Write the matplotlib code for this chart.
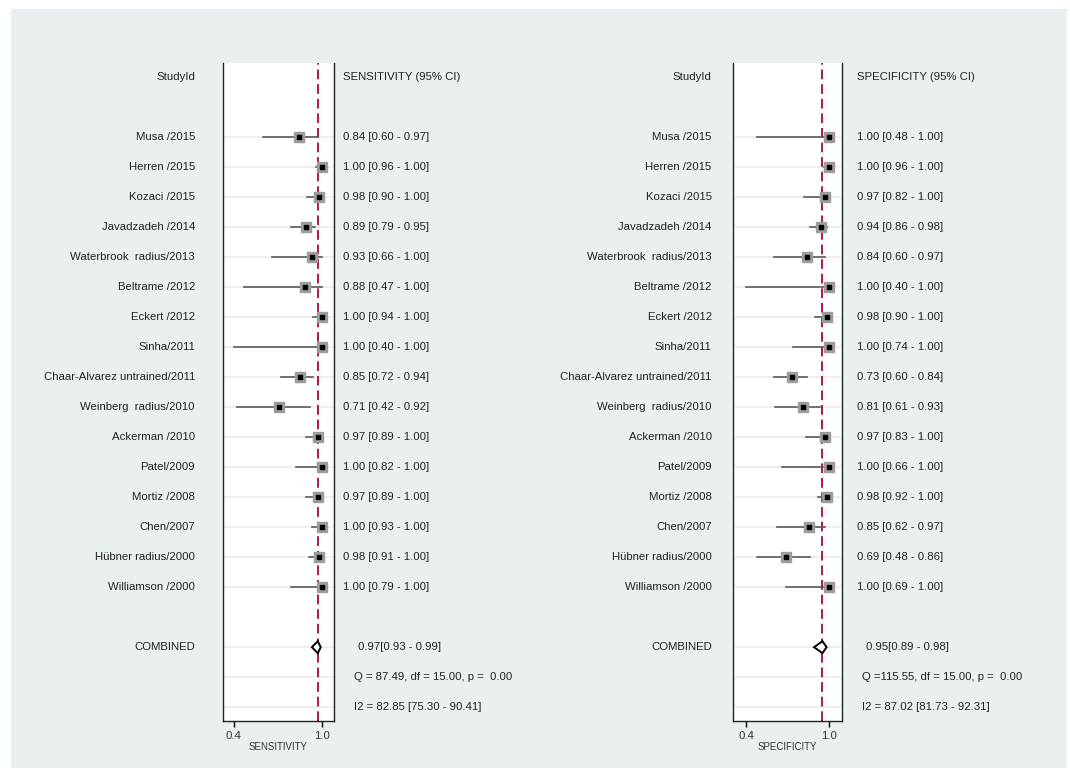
import matplotlib
matplotlib.use("Agg")
import matplotlib.pyplot as plt
from matplotlib.patches import Rectangle, Polygon
from matplotlib.transforms import blended_transform_factory

plt.rcParams['font.family'] = ['Liberation Sans', 'DejaVu Sans']

# ---- data ----
studies = ["Musa /2015", "Herren /2015", "Kozaci /2015", "Javadzadeh /2014",
           "Waterbrook  radius/2013", "Beltrame /2012", "Eckert /2012", "Sinha/2011",
           "Chaar-Alvarez untrained/2011", "Weinberg  radius/2010", "Ackerman /2010",
           "Patel/2009", "Mortiz /2008", "Chen/2007", "H\u00fcbner radius/2000",
           "Williamson /2000"]

sens = [0.84, 1.00, 0.98, 0.89, 0.93, 0.88, 1.00, 1.00, 0.85, 0.71, 0.97, 1.00, 0.97, 1.00, 0.98, 1.00]
sens_lo = [0.60, 0.96, 0.90, 0.79, 0.66, 0.47, 0.94, 0.40, 0.72, 0.42, 0.89, 0.82, 0.89, 0.93, 0.91, 0.79]
sens_hi = [0.97, 1.00, 1.00, 0.95, 1.00, 1.00, 1.00, 1.00, 0.94, 0.92, 1.00, 1.00, 1.00, 1.00, 1.00, 1.00]

spec = [1.00, 1.00, 0.97, 0.94, 0.84, 1.00, 0.98, 1.00, 0.73, 0.81, 0.97, 1.00, 0.98, 0.85, 0.69, 1.00]
spec_lo = [0.48, 0.96, 0.82, 0.86, 0.60, 0.40, 0.90, 0.74, 0.60, 0.61, 0.83, 0.66, 0.92, 0.62, 0.48, 0.69]
spec_hi = [1.00, 1.00, 1.00, 0.98, 0.97, 1.00, 1.00, 1.00, 0.84, 0.93, 1.00, 1.00, 1.00, 0.97, 0.86, 1.00]

sens_pooled = (0.97, 0.93, 0.99)
spec_pooled = (0.95, 0.89, 0.98)
sens_q = "Q = 87.49, df = 15.00, p =  0.00"
spec_q = "Q =115.55, df = 15.00, p =  0.00"
sens_i2 = "I2 = 82.85 [75.30 - 90.41]"
spec_i2 = "I2 = 87.02 [81.73 - 92.31]"

W, H = 1070, 772
fig = plt.figure(figsize=(W / 100, H / 100), dpi=100, facecolor='white')
fig.patches.append(Rectangle((11 / W, 1 - 768 / H), (1067 - 11) / W, (768 - 9) / H,
                             transform=fig.transFigure, facecolor='#EAEFF2',
                             edgecolor='none', zorder=-10))

TXT = '#222222'
FS = 8.2
first_row = 2
combined_row = first_row + len(studies) + 1


def forest(left_px, right_px, est, lo, hi, pooled, q_txt, i2_txt,
           title, xlabel, xlim, lab_px, val_px, comb_px, stat_px):
    ax = fig.add_axes([left_px / W, 1 - 720.7 / H, (right_px - left_px) / W, (720.7 - 63) / H])
    ax.set_facecolor('white')
    ax.set_xlim(*xlim)
    ax.set_ylim(combined_row + 2.45, -0.47)
    tr = blended_transform_factory(fig.transFigure, ax.transData)

    rows = [first_row + i for i in range(len(studies))]
    for r in rows + [combined_row, combined_row + 1, combined_row + 2]:
        ax.axhline(r, color='#EAEDF0', lw=1.3, zorder=1)

    ax.axvline(pooled[0], color='#B01848', lw=1.4, ls=(0, (5, 2.5)), zorder=2)

    for i, r in enumerate(rows):
        ax.plot([lo[i], hi[i]], [r, r], color='#5a5a5a', lw=1.2, zorder=3)
        ax.plot(est[i], r, marker='s', ms=7.5, color='#9c9c9c', mec='#9c9c9c', zorder=4)
        ax.plot(est[i], r, marker='s', ms=2.3, color='black', zorder=5)
        ax.text(lab_px / W, r, studies[i], transform=tr, ha='right', va='center',
                fontsize=FS, color=TXT)
        ax.text(val_px / W, r, f"{est[i]:.2f} [{lo[i]:.2f} - {hi[i]:.2f}]",
                transform=tr, ha='left', va='center', fontsize=FS, color=TXT)

    # pooled diamond spans the pooled CI
    p, plo, phi = pooled
    h = 0.2
    ax.add_patch(Polygon([(plo, combined_row), (p, combined_row - h),
                          (phi, combined_row), (p, combined_row + h)],
                         closed=True, facecolor='white', edgecolor='black', lw=1.4, zorder=6))

    ax.text(lab_px / W, 0, "StudyId", transform=tr, ha='right', va='center', fontsize=FS, color=TXT)
    ax.text(val_px / W, 0, title, transform=tr, ha='left', va='center', fontsize=FS, color=TXT)
    ax.text(lab_px / W, combined_row, "COMBINED", transform=tr, ha='right', va='center',
            fontsize=FS, color=TXT)
    ax.text(comb_px / W, combined_row, f"{p:.2f}[{plo:.2f} - {phi:.2f}]", transform=tr,
            ha='left', va='center', fontsize=FS, color=TXT)
    ax.text(stat_px / W, combined_row + 1, q_txt, transform=tr, ha='left', va='center',
            fontsize=FS, color=TXT)
    ax.text(stat_px / W, combined_row + 2, i2_txt, transform=tr, ha='left', va='center',
            fontsize=FS, color=TXT)

    ax.set_yticks([])
    ax.set_xticks([0.4, 1.0])
    ax.set_xticklabels(['0.4', '1.0'])
    ax.tick_params(axis='x', length=4.5, width=1, labelsize=FS, labelcolor='#333333', pad=3)
    ax.set_xlabel(xlabel, fontsize=7, color='#333333', labelpad=0.5)
    ax.spines['top'].set_visible(False)
    for s in ['left', 'right', 'bottom']:
        ax.spines[s].set_linewidth(1.0)
        ax.spines[s].set_color('#222222')
    return ax


forest(222.7, 334, sens, sens_lo, sens_hi, sens_pooled, sens_q, sens_i2,
       "SENSITIVITY (95% CI)", "SENSITIVITY", (0.325, 1.08),
       195, 343, 358, 354)
forest(733.3, 842.3, spec, spec_lo, spec_hi, spec_pooled, spec_q, spec_i2,
       "SPECIFICITY (95% CI)", "SPECIFICITY", (0.309, 1.093),
       711.7, 857, 865.7, 862)

fig.savefig("out.png", dpi=100, facecolor='white')
